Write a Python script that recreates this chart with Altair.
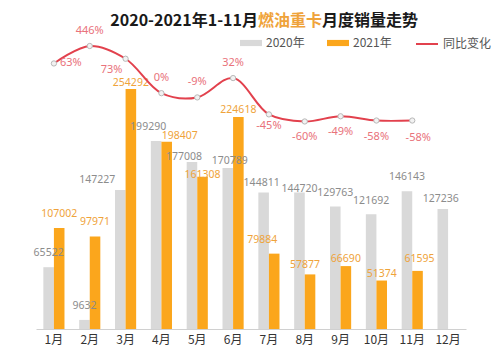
import altair as alt
import pandas as pd

months = ["1月", "2月", "3月", "4月", "5月", "6月", "7月", "8月", "9月", "10月", "11月", "12月"]
sales_2020 = [65522, 9632, 147227, 199290, 177008, 170789, 144811, 144720, 129763, 121692, 146143, 127236]
sales_2021 = [107002, 97971, 254292, 198407, 161308, 224618, 79884, 57877, 66690, 51374, 61595]
yoy_months = months[:11]
yoy_values = [63, 446, 73, 0, -9, 32, -45, -60, -49, -58, -58]
yoy_labels = ["63%", "446%", "73%", "0%", "-9%", "32%", "-45%", "-60%", "-49%", "-58%", "-58%"]

GRAY = "#D9D9D9"
ORANGE = "#FBA61C"
RED = "#E2414D"
FONT = "Noto Sans CJK SC"
YEARS = ["2020年", "2021年"]

rows = []
for m, v in zip(months, sales_2020):
    rows.append({"month": m, "year": YEARS[0], "value": v})
for m, v in zip(months, sales_2021):
    rows.append({"month": m, "year": YEARS[1], "value": v})
bars_df = pd.DataFrame(rows)
yoy_df = pd.DataFrame({"month": yoy_months, "yoy": yoy_values, "label": yoy_labels})

x_axis = alt.Axis(title=None, labelAngle=0, ticks=False, labelPadding=5, labelFontSize=12,
                  labelColor="#333333", labelFont=FONT, domainColor="#D0D0D0")
x_enc = alt.X("month:N", sort=months, axis=x_axis,
              scale=alt.Scale(paddingInner=0.41, paddingOuter=0.205))
xoff = alt.XOffset("year:N", sort=YEARS)
y_bar = alt.Y("value:Q", axis=None, scale=alt.Scale(domain=[0, 300000]))
y_line = alt.Y("yoy:Q", axis=None, scale=alt.Scale(domain=[-500, 100], clamp=True))

bars = alt.Chart(bars_df).mark_bar().encode(
    x=x_enc,
    xOffset=xoff,
    y=y_bar,
    fill=alt.Fill("year:N", scale=alt.Scale(domain=YEARS, range=[GRAY, ORANGE]),
                  legend=alt.Legend(orient="none", legendX=204, legendY=-14, direction="horizontal",
                                    title=None, symbolType="M-1,-0.28H1V0.28H-1Z", symbolSize=484,
                                    symbolStrokeWidth=0, labelFontSize=12, labelColor="#555555",
                                    labelFont=FONT, columnPadding=22, labelOffset=4)),
)

# label nudges (dx, dy of label centre from bar top), as in the reference layout
nudge = {
    ("1月", 0): (0, -14), ("1月", 1): (0, -14),
    ("2月", 0): (0, -14), ("2月", 1): (0, -15),
    ("3月", 0): (-23, -10), ("3月", 1): (0, -6),
    ("4月", 0): (-8, -14), ("4月", 1): (13, -6),
    ("5月", 0): (-8, -5), ("5月", 1): (0, -2),
    ("6月", 0): (2, -7), ("6月", 1): (0, -7),
    ("7月", 0): (-2, -9), ("7月", 1): (-12, -14),
    ("8月", 0): (0, -3), ("8月", 1): (-5, -9),
    ("9月", 0): (0, -14), ("9月", 1): (0, -7),
    ("10月", 0): (0, -13), ("10月", 1): (0, -7),
    ("11月", 0): (0, -14), ("11月", 1): (2, -12),
    ("12月", 0): (-2, -10),
}
label_colors = ["#8C8C8C", "#EFA33A"]
bar_texts = []
for (m, yi), (dx, dy) in nudge.items():
    bar_texts.append(
        alt.Chart(bars_df).transform_filter(
            (alt.datum.month == m) & (alt.datum.year == YEARS[yi])
        ).mark_text(dx=dx, dy=dy, baseline="middle", fontSize=10.5, font="Noto Sans",
                    color=label_colors[yi]).encode(
            x=x_enc, xOffset=xoff, y=y_bar, text=alt.Text("value:Q", format="d"))
    )

line = alt.Chart(yoy_df).transform_calculate(s="'同比变化'").mark_line(
    interpolate="catmull-rom", strokeWidth=2).encode(
    x=x_enc,
    y=y_line,
    stroke=alt.Stroke("s:N", scale=alt.Scale(domain=["同比变化"], range=[RED]),
                      legend=alt.Legend(orient="none", legendX=379, legendY=-14, title=None,
                                        symbolType="stroke", symbolSize=484, symbolStrokeWidth=2,
                                        labelFontSize=12, labelColor="#555555", labelFont=FONT,
                                        labelOffset=4)),
)

points = alt.Chart(yoy_df).mark_point(filled=True, size=28, fill="#F2F2F2", stroke="#B8B8B8",
                                      strokeWidth=1, opacity=1).encode(x=x_enc, y=y_line)

LCOL = "#E9727B"


def yoy_text(subset, **kw):
    return alt.Chart(yoy_df).transform_filter(
        alt.FieldOneOfPredicate(field="month", oneOf=subset)
    ).mark_text(fontSize=11, color=LCOL, font="Noto Sans", **kw).encode(
        x=x_enc, y=y_line, text="label:N")


t_above = yoy_text(["2月", "4月", "5月", "6月"], dy=-15)
t_below = yoy_text(["7月"], dy=12)
t_below2 = yoy_text(["8月", "9月", "10月"], dy=16)
t_jan = yoy_text(["1月"], align="left", dx=6)
t_mar = yoy_text(["3月"], dx=-14, dy=11)
t_nov = yoy_text(["11月"], dx=6, dy=17)

title_df = pd.DataFrame({"t": [0]})
t1 = alt.Chart(title_df).mark_text(text="2020-2021年1-11月", align="right", baseline="middle",
                                   fontSize=16, fontWeight="bold", font=FONT, color="#1A1A1A").encode(
    x=alt.value(222), y=alt.value(-25))
t2 = alt.Chart(title_df).mark_text(text="燃油重卡", align="left", baseline="middle",
                                   fontSize=16, fontWeight="bold", font=FONT, color="#EFA33A").encode(
    x=alt.value(222), y=alt.value(-25))
t3 = alt.Chart(title_df).mark_text(text="月度销量走势", align="left", baseline="middle",
                                   fontSize=16, fontWeight="bold", font=FONT, color="#1A1A1A").encode(
    x=alt.value(286), y=alt.value(-25))

bar_layer = alt.layer(bars, *bar_texts)
line_layer = alt.layer(line, points, t_above, t_below, t_below2, t_jan, t_mar, t_nov)

chart = alt.layer(bar_layer, line_layer, t1, t2, t3).resolve_scale(
    y="independent"
).properties(
    width=430, height=283,
    autosize=alt.AutoSizeParams(type="none"),
    padding={"left": 36, "top": 46, "right": 34, "bottom": 21},
    background="white",
).configure_view(stroke=None)

chart.save("out.html", embed_options={"renderer": "svg", "actions": False})
